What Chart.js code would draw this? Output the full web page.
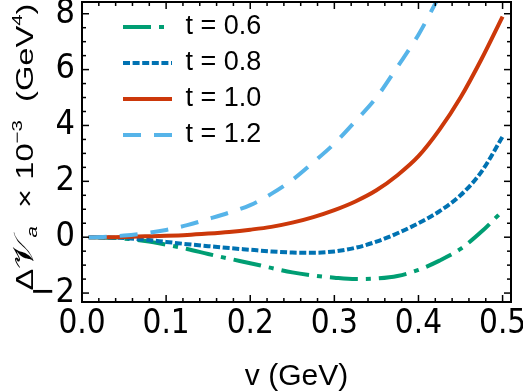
<!DOCTYPE html>
<html>
<head>
<meta charset="utf-8">
<script src="https://cdn.jsdelivr.net/npm/chart.js@4.4.1/dist/chart.umd.min.js"></script>
<style>
  html, body { margin: 0; padding: 0; background: #fff; }
  #wrap { width: 523px; height: 392px; }
</style>
</head>
<body>
<div id="wrap"><canvas id="chart" width="523" height="392"></canvas></div>
<script>
// momentum v (GeV), shared by every curve
const vValues = [0.008, 0.025, 0.05, 0.075, 0.1, 0.125, 0.15, 0.175, 0.2, 0.225, 0.25,
                 0.275, 0.3, 0.325, 0.35, 0.375, 0.4, 0.425, 0.45, 0.475, 0.5];
// Delta V_a x 10^-3 (GeV^4)
const t06 = [0, -0.01, -0.05, -0.14, -0.27, -0.42, -0.6, -0.77, -0.93, -1.1, -1.26,
             -1.37, -1.45, -1.5, -1.48, -1.39, -1.17, -0.84, -0.42, 0.2, 0.94];
const t08 = [0, -0.01, -0.03, -0.09, -0.17, -0.25, -0.32, -0.39, -0.45, -0.51, -0.55,
             -0.56, -0.51, -0.38, -0.16, 0.14, 0.5, 0.93, 1.5, 2.35, 3.6];
const t10 = [0, 0, 0.01, 0.03, 0.05, 0.08, 0.13, 0.19, 0.27, 0.37, 0.52,
             0.72, 0.97, 1.28, 1.68, 2.22, 2.9, 3.85, 5.0, 6.38, 7.9];
const t12 = [0, 0.01, 0.06, 0.14, 0.26, 0.43, 0.65, 0.88, 1.15, 1.55, 2.05,
             2.68, 3.35, 4.15, 5.0, 6.1, 7.25, 8.65, null, null, null];
const seriesLabels = ['t = 0.6', 't = 0.8', 't = 1.0', 't = 1.2'];

const xTicks = [0, 0.1, 0.2, 0.3, 0.4, 0.5];
const yTicks = [-2, 0, 2, 4, 6, 8];
const xMinorStep = 0.02;
const yMinorStep = 0.5;

const NARROW = "'Liberation Sans Narrow', 'DejaVu Sans Condensed', 'Liberation Sans', sans-serif";
const SANS = "'Liberation Sans', Arial, sans-serif";
const LINE_W = 4;

function pts(ys) {
    let out = [];
    for (let i = 0; i < vValues.length; i += 1) {
        if (ys[i] !== null) out.push({x: vValues[i], y: ys[i]});
    }
    return out;
}

function line(ctx, x1, y1, x2, y2) {
    ctx.beginPath();
    ctx.moveTo(x1, y1);
    ctx.lineTo(x2, y2);
    ctx.stroke();
}

// frame with inward ticks on all four sides (Mathematica style)
const framePlugin = {
    id: 'frame',
    afterDatasetsDraw(chart) {
        const ctx = chart.ctx;
        const a = chart.chartArea;
        const x = chart.scales.x, y = chart.scales.y;
        ctx.save();
        ctx.strokeStyle = '#000';
        ctx.lineWidth = 1.5;
        for (let i = 0; i * xMinorStep <= x.max + 1e-9; i += 1) {
            const px = x.getPixelForValue(i * xMinorStep);
            const len = i % 5 === 0 ? 7 : 4;
            line(ctx, px, a.bottom, px, a.bottom - len);
            line(ctx, px, a.top, px, a.top + len);
        }
        for (let i = Math.ceil(y.min / yMinorStep); i * yMinorStep <= y.max; i += 1) {
            const py = y.getPixelForValue(i * yMinorStep);
            const len = i % 4 === 0 ? 7 : 4;
            line(ctx, a.left, py, a.left + len, py);
            line(ctx, a.right, py, a.right - len, py);
        }
        ctx.lineWidth = 2;
        ctx.strokeRect(a.left, a.top, a.right - a.left, a.bottom - a.top);
        ctx.restore();
    }
};

// rotated y title with sub/superscripts, stretched like the original
const yTitlePlugin = {
    id: 'yTitle',
    afterDraw(chart) {
        const ctx = chart.ctx;
        const runs = [
            {text: 'Δ', font: '24px ' + SANS, dy: 0},
            {text: '𝒱', font: '28px ' + SANS, dy: 0},
            {text: 'a', font: 'italic 15px ' + SANS, dy: 4},
            {text: '  × 10', font: '24px ' + SANS, dy: 0},
            {text: '−3', font: '15px ' + SANS, dy: -11},
            {text: '  (GeV', font: '24px ' + SANS, dy: 0},
            {text: '4', font: '15px ' + SANS, dy: -11},
            {text: ')', font: '24px ' + SANS, dy: 0}
        ];
        ctx.save();
        let total = 0;
        runs.forEach(r => { ctx.font = r.font; r.w = ctx.measureText(r.text).width; total += r.w; });
        const sx = 287 / total;
        ctx.translate(32.5, 147);
        ctx.rotate(-Math.PI / 2);
        ctx.scale(sx, 1);
        ctx.fillStyle = '#000';
        ctx.textBaseline = 'alphabetic';
        ctx.textAlign = 'left';
        let pos = -total / 2;
        runs.forEach(r => {
            ctx.font = r.font;
            ctx.fillText(r.text, pos, r.dy);
            pos += r.w;
        });
        ctx.restore();
    }
};

// move the in-plot legend to where the original has it
const legendShift = {
    id: 'legendShift',
    afterLayout(chart) {
        const lg = chart.legend;
        if (lg) {
            lg.left = chart.chartArea.left + 32;
            lg.top = chart.chartArea.top + 2.5;
        }
    }
};

const ctx = document.getElementById('chart').getContext('2d');
window.potChart = new Chart(ctx, {
    type: 'line',
    data: {
        datasets: [{
            label: seriesLabels[0],
            data: pts(t06),
            borderColor: '#009E73',
            borderDash: [28, 8, 5, 8],
            order: 4
        }, {
            label: seriesLabels[1],
            data: pts(t08),
            borderColor: '#0072B2',
            borderDash: [7, 2.6],
            order: 3
        }, {
            label: seriesLabels[2],
            data: pts(t10),
            borderColor: 'rgb(204,56,10)',
            order: 2
        }, {
            label: seriesLabels[3],
            data: pts(t12),
            borderColor: '#56B4E9',
            borderDash: [18, 13],
            order: 1
        }]
    },
    options: {
        responsive: false,
        animation: false,
        layout: { padding: { left: 0, right: 12, top: 2, bottom: 0 } },
        datasets: {
            line: {
                borderWidth: LINE_W,
                pointRadius: 0,
                fill: false,
                cubicInterpolationMode: 'monotone',
                borderCapStyle: 'butt',
                clip: 0
            }
        },
        scales: {
            x: {
                type: 'linear',
                min: 0,
                max: 0.51,
                afterFit: s => { s.height = 90; s.paddingLeft = 0; s.paddingRight = 0; },
                afterBuildTicks: s => { s.ticks = xTicks.map(v => ({value: v})); },
                grid: { display: false, drawTicks: false },
                border: { display: false },
                ticks: {
                    padding: 3,
                    color: '#000',
                    maxRotation: 0,
                    font: { family: NARROW, size: 33 },
                    callback: v => v.toFixed(1)
                },
                title: {
                    display: true,
                    text: 'v (GeV)',
                    color: '#000',
                    padding: 0,
                    font: { family: SANS, size: 30, lineHeight: 1 }
                }
            },
            y: {
                min: -2.32,
                max: 8.42,
                afterFit: s => { s.width = 82; s.paddingTop = 0; s.paddingBottom = 0; },
                afterBuildTicks: s => { s.ticks = yTicks.map(v => ({value: v})); },
                grid: { display: false, drawTicks: false },
                border: { display: false },
                ticks: {
                    padding: 7,
                    color: '#000',
                    font: { family: NARROW, size: 34 },
                    callback: v => String(v).replace('-', '−')
                }
            }
        },
        plugins: {
            tooltip: { enabled: false },
            legend: {
                position: 'chartArea',
                align: 'start',
                labels: {
                    usePointStyle: true,
                    pointStyle: 'line',
                    pointStyleWidth: 49,
                    padding: 9,
                    color: '#000',
                    font: { family: SANS, size: 27 },
                    sort: (a, b) => a.datasetIndex - b.datasetIndex,
                    generateLabels: chart => {
                        const items = Chart.defaults.plugins.legend.labels.generateLabels(chart);
                        items.forEach(it => {
                            const ds = chart.data.datasets[it.datasetIndex];
                            it.lineDash = ds.borderDash || [];
                            it.lineWidth = LINE_W;
                            it.strokeStyle = ds.borderColor;
                            it.lineCap = 'butt';
                        });
                        return items;
                    }
                }
            }
        }
    },
    plugins: [framePlugin, yTitlePlugin, legendShift]
});
</script>
</body>
</html>
